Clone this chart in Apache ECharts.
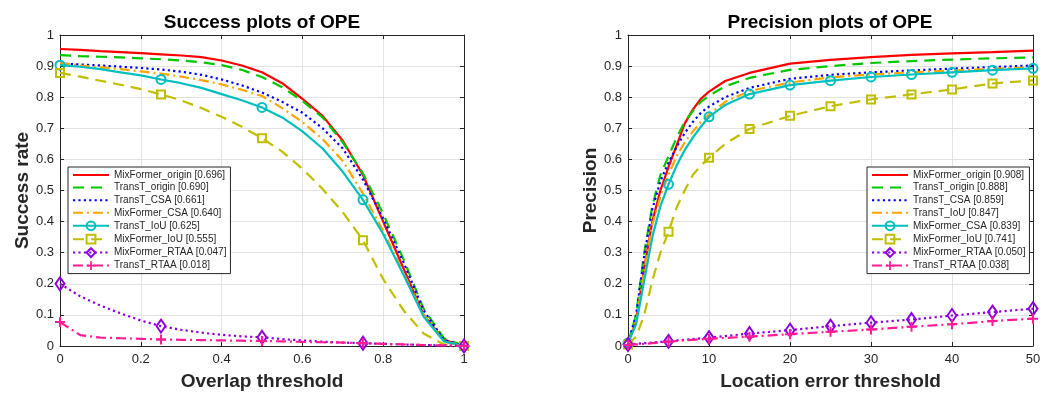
<!DOCTYPE html>
<html>
<head>
<meta charset="utf-8">
<script src="https://cdn.jsdelivr.net/npm/echarts@6/dist/echarts.min.js"></script>
<style>
  html, body { margin: 0; background: #fff; }
  #chart { width: 1051px; height: 396px; }
</style>
</head>
<body>
<div id="chart"></div>
<script>
// success plot: overlap thresholds
const successX = [0, 0.05, 0.1, 0.15, 0.2, 0.25, 0.3, 0.35, 0.4, 0.45, 0.5, 0.55, 0.6, 0.65, 0.7, 0.75, 0.8, 0.85, 0.9, 0.95, 1];
const successNames = [
  'MixFormer_origin [0.696]', 'TransT_origin [0.690]', 'TransT_CSA [0.661]', 'MixFormer_CSA [0.640]',
  'TransT_IoU [0.625]', 'MixFormer_IoU [0.555]', 'MixFormer_RTAA [0.047]', 'TransT_RTAA [0.018]'
];
const sucMixFormerOrigin = [0.955, 0.952, 0.948, 0.945, 0.942, 0.938, 0.934, 0.929, 0.918, 0.902, 0.88, 0.845, 0.795, 0.74, 0.66, 0.55, 0.40, 0.25, 0.10, 0.02, 0];
const sucTransTOrigin = [0.935, 0.932, 0.93, 0.928, 0.925, 0.922, 0.918, 0.912, 0.903, 0.888, 0.865, 0.832, 0.788, 0.735, 0.655, 0.555, 0.425, 0.28, 0.12, 0.025, 0];
const sucTransTCSA = [0.908, 0.905, 0.902, 0.898, 0.894, 0.889, 0.882, 0.872, 0.857, 0.838, 0.815, 0.785, 0.75, 0.70, 0.635, 0.535, 0.41, 0.27, 0.115, 0.02, 0];
const sucMixFormerCSA = [0.91, 0.902, 0.896, 0.89, 0.883, 0.876, 0.866, 0.855, 0.841, 0.824, 0.804, 0.765, 0.72, 0.665, 0.595, 0.49, 0.37, 0.235, 0.1, 0.015, 0];
const sucTransTIoU = [0.903, 0.898, 0.89, 0.88, 0.87, 0.857, 0.845, 0.83, 0.81, 0.79, 0.767, 0.735, 0.69, 0.635, 0.56, 0.47, 0.36, 0.23, 0.095, 0.015, 0];
const sucMixFormerIoU = [0.878, 0.866, 0.853, 0.84, 0.826, 0.809, 0.79, 0.765, 0.737, 0.705, 0.668, 0.625, 0.57, 0.505, 0.43, 0.34, 0.215, 0.115, 0.04, 0.005, 0];
const sucMixFormerRTAA = [0.2, 0.16, 0.13, 0.105, 0.082, 0.064, 0.052, 0.043, 0.036, 0.031, 0.028, 0.022, 0.018, 0.014, 0.011, 0.009, 0.007, 0.005, 0.003, 0.002, 0];
const sucTransTRTAA = [0.077, 0.035, 0.027, 0.025, 0.023, 0.021, 0.02, 0.019, 0.018, 0.017, 0.016, 0.015, 0.013, 0.012, 0.011, 0.009, 0.007, 0.005, 0.003, 0.002, 0];

// precision plot: location error thresholds
const precisionX = [0, 1, 2, 3, 4, 5, 6, 7, 8, 9, 10, 12, 15, 20, 25, 30, 35, 40, 45, 50];
const precisionNames = [
  'MixFormer_origin [0.908]', 'TransT_origin [0.888]', 'TransT_CSA [0.859]', 'TransT_IoU [0.847]',
  'MixFormer_CSA [0.839]', 'MixFormer_IoU [0.741]', 'MixFormer_RTAA [0.050]', 'TransT_RTAA [0.038]'
];
const preMixFormerOrigin = [0.01, 0.08, 0.25, 0.40, 0.50, 0.575, 0.645, 0.715, 0.76, 0.795, 0.818, 0.852, 0.878, 0.908, 0.92, 0.929, 0.936, 0.941, 0.945, 0.95];
const preTransTOrigin = [0.01, 0.10, 0.30, 0.45, 0.55, 0.61, 0.67, 0.72, 0.755, 0.785, 0.805, 0.835, 0.862, 0.888, 0.9, 0.91, 0.916, 0.921, 0.925, 0.928];
const preTransTCSA = [0.01, 0.10, 0.29, 0.44, 0.53, 0.59, 0.64, 0.685, 0.72, 0.75, 0.77, 0.80, 0.83, 0.859, 0.872, 0.88, 0.886, 0.892, 0.897, 0.902];
const preTransTIoU = [0.01, 0.08, 0.24, 0.39, 0.48, 0.55, 0.61, 0.655, 0.69, 0.72, 0.745, 0.785, 0.82, 0.847, 0.864, 0.873, 0.88, 0.886, 0.891, 0.896];
const preMixFormerCSA = [0.01, 0.07, 0.21, 0.35, 0.45, 0.52, 0.58, 0.63, 0.67, 0.705, 0.737, 0.775, 0.81, 0.839, 0.853, 0.865, 0.873, 0.88, 0.887, 0.893];
const preMixFormerIoU = [0.005, 0.03, 0.10, 0.21, 0.30, 0.367, 0.445, 0.50, 0.55, 0.58, 0.605, 0.65, 0.698, 0.74, 0.771, 0.793, 0.809, 0.825, 0.844, 0.854];
const preMixFormerRTAA = [0.005, 0.007, 0.009, 0.011, 0.013, 0.015, 0.018, 0.02, 0.022, 0.025, 0.027, 0.032, 0.04, 0.051, 0.064, 0.075, 0.085, 0.098, 0.109, 0.12];
const preTransTRTAA = [0.003, 0.005, 0.007, 0.009, 0.012, 0.014, 0.016, 0.018, 0.02, 0.022, 0.023, 0.026, 0.03, 0.038, 0.046, 0.053, 0.062, 0.07, 0.08, 0.088];

const successValues = [sucMixFormerOrigin, sucTransTOrigin, sucTransTCSA, sucMixFormerCSA, sucTransTIoU, sucMixFormerIoU, sucMixFormerRTAA, sucTransTRTAA];
const precisionValues = [preMixFormerOrigin, preTransTOrigin, preTransTCSA, preTransTIoU, preMixFormerCSA, preMixFormerIoU, preMixFormerRTAA, preTransTRTAA];

const FONT = '"Liberation Sans", Arial, sans-serif';
const INK = '#262626';
const CLEAR = 'rgba(255,255,255,0)';
const PLUS = 'path://M4,0H6V4H10V6H6V10H4V6H0V4H4Z';

// line style for each legend slot (same order in both plots)
const styles = [
  { color: '#FF0000', type: 'solid' },
  { color: '#00C800', type: [11, 7] },
  { color: '#0000FF', type: [2.2, 3.2] },
  { color: '#FFA500', type: [10, 4, 2, 4] },
  { color: '#00BFBF', type: 'solid', symbol: 'circle', size: 9 },
  { color: '#BFBF00', type: [11, 7], symbol: 'rect', size: 8 },
  { color: '#8C00E0', type: [2.2, 3.2], symbol: 'diamond', size: [9, 13] },
  { color: '#FF1C96', type: [10, 4, 2, 4], symbol: PLUS, size: 10, filled: true },
];

function makeSeries(names, values, xs, isMarker, axisIndex) {
  return names.map((name, k) => {
    const st = styles[k];
    const data = xs.map((x, i) =>
      st.symbol && isMarker(x, i) ? [x, values[k][i]] : { value: [x, values[k][i]], symbol: 'none' });
    let itemStyle;
    if (!st.symbol) itemStyle = { color: CLEAR, borderColor: CLEAR, borderWidth: 0 };
    else if (st.filled) itemStyle = { color: st.color, borderWidth: 0 };
    else itemStyle = { color: CLEAR, borderColor: st.color, borderWidth: 2 };
    return {
      name,
      type: 'line',
      xAxisIndex: axisIndex,
      yAxisIndex: axisIndex,
      data,
      symbol: st.symbol || 'none',
      symbolSize: st.size || 4,
      showSymbol: true,
      silent: true,
      lineStyle: { color: st.color, width: 2.2, type: st.type },
      itemStyle,
      z: 2 + k,
    };
  });
}

function valueAxis(extra) {
  return Object.assign({
    type: 'value',
    axisLine: { show: true, onZero: false, lineStyle: { color: INK, width: 1 } },
    axisTick: { show: true, inside: true, length: 4, lineStyle: { color: INK } },
    splitLine: { show: true, lineStyle: { color: '#E3E3E3', width: 1 } },
    nameTextStyle: { color: INK, fontSize: 19, fontWeight: 'bold', fontFamily: FONT },
  }, extra);
}

function boxAxis(extra) {
  return Object.assign({
    type: 'value',
    axisLine: { show: true, onZero: false, lineStyle: { color: INK, width: 1 } },
    axisTick: { show: true, inside: true, length: 4, lineStyle: { color: INK } },
    axisLabel: { show: false },
    splitLine: { show: false },
  }, extra);
}

const fmt = v => String(+v.toFixed(1));
const tickLabel = margin => ({ color: INK, fontSize: 13, fontFamily: FONT, margin, formatter: fmt });

const chart = echarts.init(document.getElementById('chart'));
chart.setOption({
  backgroundColor: '#fff',
  animation: false,
  title: [
    { text: 'Success plots of OPE', left: 262, top: 13, padding: 0, textAlign: 'center',
      textStyle: { fontSize: 19, fontWeight: 'bold', color: '#000', fontFamily: FONT } },
    { text: 'Precision plots of OPE', left: 830, top: 13, padding: 0, textAlign: 'center',
      textStyle: { fontSize: 19, fontWeight: 'bold', color: '#000', fontFamily: FONT } },
  ],
  grid: [
    { left: 60, top: 35, width: 404, height: 314 },
    { left: 628, top: 35, width: 405, height: 314 },
  ],
  xAxis: [
    valueAxis({ gridIndex: 0, min: 0, max: 1, interval: 0.2, name: 'Overlap threshold',
      nameLocation: 'middle', nameGap: 26, axisLabel: tickLabel(7) }),
    valueAxis({ gridIndex: 1, min: 0, max: 50, interval: 10, name: 'Location error threshold',
      nameLocation: 'middle', nameGap: 26, axisLabel: tickLabel(7) }),
    boxAxis({ gridIndex: 0, position: 'top', min: 0, max: 1, interval: 0.2 }),
    boxAxis({ gridIndex: 1, position: 'top', min: 0, max: 50, interval: 10 }),
  ],
  yAxis: [
    valueAxis({ gridIndex: 0, min: 0, max: 1, interval: 0.1, name: 'Success rate',
      nameLocation: 'middle', nameGap: 27, axisLabel: tickLabel(6) }),
    valueAxis({ gridIndex: 1, min: 0, max: 1, interval: 0.1, name: 'Precision',
      nameLocation: 'middle', nameGap: 27, axisLabel: tickLabel(6) }),
    boxAxis({ gridIndex: 0, position: 'right', min: 0, max: 1, interval: 0.1 }),
    boxAxis({ gridIndex: 1, position: 'right', min: 0, max: 1, interval: 0.1 }),
  ],
  legend: [
    { data: successNames, left: 68, top: 167 },
    { data: precisionNames, left: 867, top: 167 },
  ].map(l => Object.assign({
    orient: 'vertical', itemWidth: 36, itemHeight: 11, itemGap: 2.6,
    padding: [3, 4, 3, 4], borderColor: INK, borderWidth: 1, backgroundColor: '#fff',
    selectedMode: false,
    textStyle: { fontSize: 10, color: INK, fontFamily: FONT },
  }, l)),
  series: [
    ...makeSeries(successNames, successValues, successX, (x, i) => i % 5 === 0, 0),
    ...makeSeries(precisionNames, precisionValues, precisionX, x => x % 5 === 0, 1),
  ],
});
</script>
</body>
</html>
